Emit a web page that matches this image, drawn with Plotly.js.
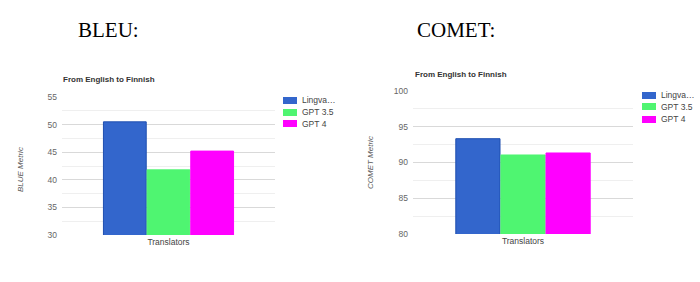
<!DOCTYPE html>
<html>
<head>
<meta charset="utf-8">
<script src="https://cdn.plot.ly/plotly-3.0.1.min.js"></script>
<style>html,body{margin:0;padding:0;background:#fff;}#chart{width:700px;height:282px;}</style>
</head>
<body>
<div id="chart"></div>
<script>
const category = ["Translators"];
const seriesNames = ["Lingva…", "GPT 3.5", "GPT 4"];
const bleuValues = [50.5, 41.8, 45.2];
const cometValues = [93.33, 91.05, 91.33];
const seriesColors = ["#3366cc", "#4ff571", "#ff00ff"];
const outlineColors = ["#1f4fb0", "#4ff571", "#ff00ff"];

const traces = [];
seriesNames.forEach((n, i) => {
  traces.push({
    type: "bar", x: category, y: [bleuValues[i]], name: n,
    xaxis: "x", yaxis: "y", showlegend: false,
    marker: {color: seriesColors[i], line: {color: outlineColors[i], width: 1}},
    hoverinfo: "none"
  });
});
seriesNames.forEach((n, i) => {
  traces.push({
    type: "bar", x: category, y: [cometValues[i]], name: n,
    xaxis: "x2", yaxis: "y2", showlegend: false,
    marker: {color: seriesColors[i], line: {color: outlineColors[i], width: 1}},
    hoverinfo: "none"
  });
});

const baseFont = "Arial, Liberation Sans, sans-serif";
const tickFont = {family: baseFont, size: 8.5, color: "#666"};
const yCommon = {
  dtick: 5, showline: false, zeroline: false, ticks: "",
  gridcolor: "#d9d9d9", gridwidth: 1, tickfont: tickFont, ticklabelstandoff: 4,
  minor: {dtick: 2.5, showgrid: true, gridcolor: "#efefef", gridwidth: 1},
  fixedrange: true
};
const xCommon = {
  showline: false, zeroline: false, ticks: "", tickfont: {family: baseFont, size: 8.5, color: "#444"},
  showgrid: false, fixedrange: true
};

// legend built from the series arrays (swatch + label rows)
function legendAnnots(xPx, yTopPx) {
  const out = [];
  seriesNames.forEach((n, i) => {
    const yc = 1 - (yTopPx + i * 12) / 282;
    out.push({text: " ", xref: "paper", yref: "paper", x: xPx / 700, y: yc, xanchor: "left", yanchor: "middle",
      showarrow: false, width: 14, height: 7, bgcolor: seriesColors[i], borderpad: 0, borderwidth: 0,
      bordercolor: outlineColors[i], font: {size: 6}});
    out.push({text: n, xref: "paper", yref: "paper", x: (xPx + 17) / 700, y: yc, xanchor: "left", yanchor: "middle",
      showarrow: false, font: {family: baseFont, size: 8.5, color: "#444"}});
  });
  return out;
}

const layout = {
  width: 700, height: 282,
  margin: {l: 0, r: 0, t: 0, b: 0, autoexpand: false},
  paper_bgcolor: "#fff", plot_bgcolor: "#fff",
  barmode: "group", bargap: 0.385, bargroupgap: 0.02,
  showlegend: false,
  font: {family: baseFont},
  xaxis: Object.assign({}, xCommon, {domain: [62/700, 275/700], anchor: "y"}),
  yaxis: Object.assign({}, yCommon, {domain: [1 - 235/282, 1 - 97/282], range: [30, 55], anchor: "x"}),
  xaxis2: Object.assign({}, xCommon, {domain: [413/700, 633/700], anchor: "y2"}),
  yaxis2: Object.assign({}, yCommon, {domain: [1 - 234/282, 1 - 91/282], range: [80, 100], anchor: "x2"}),
  annotations: [
    {text: "BLEU:", xref: "paper", yref: "paper", x: 76/700, y: 0.893, xanchor: "left", yanchor: "middle",
     showarrow: false, font: {family: "Liberation Serif, Times New Roman, serif", size: 21, color: "#000"}},
    {text: "COMET:", xref: "paper", yref: "paper", x: 415/700, y: 0.893, xanchor: "left", yanchor: "middle",
     showarrow: false, font: {family: "Liberation Serif, Times New Roman, serif", size: 21, color: "#000"}},
    {text: "<b>From English to Finnish</b>", xref: "paper", yref: "paper", x: 61/700, y: 1 - 80/282, xanchor: "left", yanchor: "middle",
     showarrow: false, font: {family: baseFont, size: 8, color: "#333"}},
    {text: "<b>From English to Finnish</b>", xref: "paper", yref: "paper", x: 413/700, y: 1 - 74/282, xanchor: "left", yanchor: "middle",
     showarrow: false, font: {family: baseFont, size: 8, color: "#333"}},
    {text: "<i>BLUE Metric</i>", xref: "paper", yref: "paper", x: 20/700, y: 1 - 170/282, xanchor: "center", yanchor: "middle",
     textangle: -90, showarrow: false, font: {family: baseFont, size: 8, color: "#555"}},
    {text: "<i>COMET Metric</i>", xref: "paper", yref: "paper", x: 370/700, y: 1 - 163/282, xanchor: "center", yanchor: "middle",
     textangle: -90, showarrow: false, font: {family: baseFont, size: 8, color: "#555"}}
  ].concat(legendAnnots(283, 100)).concat(legendAnnots(642, 95))
};

Plotly.newPlot("chart", traces, layout, {displayModeBar: false, staticPlot: true});
</script>
</body>
</html>
